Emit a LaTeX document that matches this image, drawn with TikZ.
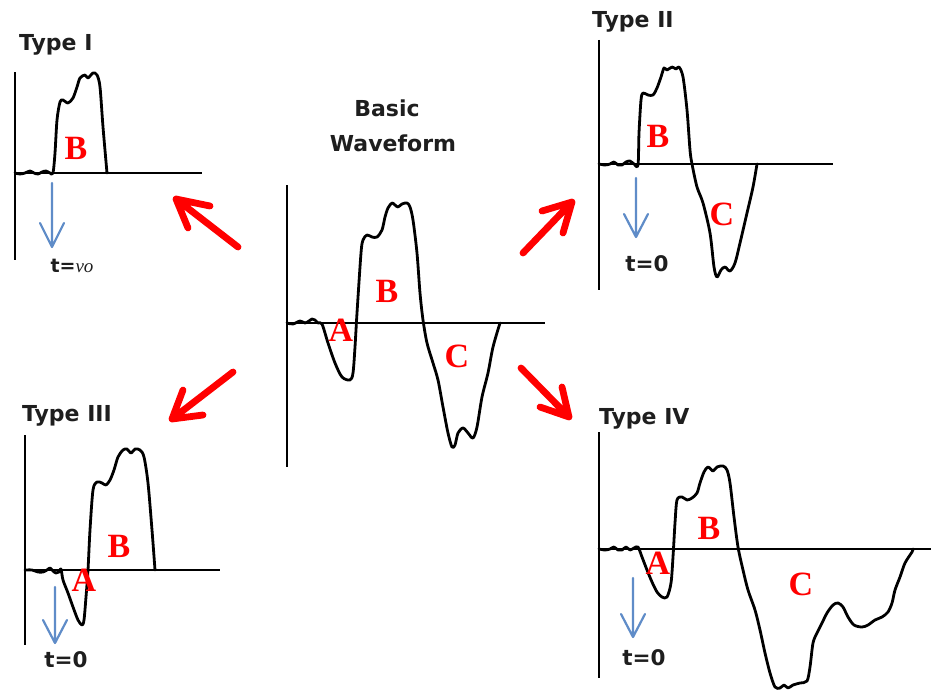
\documentclass[tikz,border=0pt]{standalone}
\usepackage{fontspec}
\newfontfamily\titlefont{DejaVu Sans}
\newfontfamily\labfont{Liberation Serif}
\definecolor{wred}{RGB}{255,0,0}
\definecolor{wblue}{RGB}{95,140,200}
\definecolor{ttlc}{RGB}{30,30,30}
\tikzset{
  axis/.style={line width=2.1pt, black},
  wave/.style={line width=2.8pt, black, line join=round, line cap=round},
  lab/.style={text=wred, font=\labfont\bfseries\fontsize{34}{34}\selectfont, inner sep=0pt},
  ttl/.style={text=ttlc, font=\titlefont\bfseries\fontsize{22}{24}\selectfont, inner sep=0pt},
  tlab/.style={text=ttlc, font=\titlefont\bfseries\fontsize{21.5}{24}\selectfont, inner sep=0pt},
  redarr/.style={line width=6.8pt, wred, line cap=round, line join=round},
  bluearr/.style={line width=2.2pt, wblue, line cap=round, line join=round}
}
\begin{document}
\begin{tikzpicture}[x=1pt,y=-1pt]
\useasboundingbox[fill=white] (0,0) rectangle (931,693);

% ---------------- Type I ----------------
\node[ttl, anchor=base west] (t1) at (19,51) {Type I};
\draw[axis] (15,72) -- (15,260);
\draw[axis] (15,173) -- (202,173);
\draw[wave] plot[smooth, tension=0.5] coordinates {(15,173) (20,174) (25,173) (30,171) (34,173) (38,174) (42,172) (46,171) (50,173) (53,173)
 (55,153) (57,120) (60,102) (63,100) (68,103) (73,98) (77,87) (80,78) (85,75) (88,78) (93,73) (97,75) (100,87) (103,127) (107,173)};
\node[lab] (b1) at (76,148) {B};
\coordinate (ba1) at (52,183); \coordinate (bh1) at (52,247);
\draw[bluearr] (ba1) -- (bh1) (40,223) -- (bh1) -- (64,223);
\node[tlab, anchor=base, font=\titlefont\bfseries\fontsize{19}{22}\selectfont] (z1) at (72,272) {t={\labfont\mdseries\itshape νo}};

% ---------------- Basic waveform ----------------
\node[ttl, anchor=base] (bw1) at (387,116) {Basic};
\node[ttl, anchor=base] (bw2) at (393,151) {Waveform};
\draw[axis] (287,185) -- (287,467);
\draw[axis] (287,323) -- (545,323);
\draw[wave] plot[smooth, tension=0.5] coordinates {(287,323) (293,324) (300,321) (305,323) (309,321) (312,319) (315,320) (318,323) (322,324)
 (328,343) (335,363) (342,377) (350,380) (353,373) (355,347) (357,313) (361,253) (363,240) (367,235) (372,237) (377,237) (382,230) (385,217) (388,208) (392,203) (395,205) (398,207) (402,204) (407,203) (410,207) (413,220) (417,253) (420,293) (423,320) (427,343) (433,363) (438,380) (443,407) (448,433) (452,447) (455,445) (458,433) (463,428) (468,433) (473,438) (477,427) (482,397) (488,373) (493,347) (500,323)};
\node[lab] (a0) at (341,330) {A};
\node[lab] (b0) at (387,291) {B};
\node[lab] (c0) at (457,356) {C};

% ---------------- Type II ----------------
\node[ttl, anchor=base west] (t2) at (592,28) {Type II};
\draw[axis] (599,40) -- (599,290);
\draw[axis] (599,164) -- (833,164);
\draw[wave] plot[smooth, tension=0.5] coordinates {(599,164) (605,165) (610,164) (614,162) (618,165) (622,165) (626,162) (630,161) (634,164) (638,165)
 (639,133) (641,100) (643,93) (648,95) (653,95) (657,88) (661,77) (664,68) (667,70) (672,67) (676,69) (679,67) (683,77) (687,110) (690,150) (692,164) (697,187) (703,203) (710,233) (714,267) (717,277) (721,270) (725,267) (730,271) (735,263) (740,243) (747,213) (753,187) (757,164)};
\node[lab] (b2) at (658,136) {B};
\node[lab] (c2) at (722,214) {C};
\coordinate (ba2) at (636,178); \coordinate (bh2) at (636,237);
\draw[bluearr] (ba2) -- (bh2) (624,214) -- (bh2) -- (648,214);
\node[tlab, anchor=base] (z2) at (647,271) {t=0};

% ---------------- Type III ----------------
\node[ttl, anchor=base west] (t3) at (22,421) {Type III};
\draw[axis] (25,435) -- (25,645);
\draw[axis] (25,570) -- (220,570);
\draw[wave] plot[smooth, tension=0.5] coordinates {(25,570) (32,570) (38,572) (43,572) (47,570) (50,568) (53,571) (56,573) (59,572) (61,569)
 (63,580) (68,593) (73,607) (78,620) (82,625) (84,620) (86,597) (88,570) (90,530) (93,490) (97,482) (102,483) (106,485) (110,480) (114,470) (118,457) (123,450) (127,449) (131,453) (135,449) (140,450) (144,457) (148,483) (152,530) (155,570)};
\node[lab] (a3) at (84,580) {A};
\node[lab] (b3) at (119,546) {B};
\coordinate (ba3) at (55,587); \coordinate (bh3) at (55,643);
\draw[bluearr] (ba3) -- (bh3) (43,620) -- (bh3) -- (67,620);
\node[tlab, anchor=base] (z3) at (66,667) {t=0};

% ---------------- Type IV ----------------
\node[ttl, anchor=base west] (t4) at (599,424) {Type IV};
\draw[axis] (599,432) -- (599,678);
\draw[axis] (599,549) -- (931,549);
\draw[wave] plot[smooth, tension=0.5] coordinates {(599,549) (605,550) (610,549) (614,547) (618,550) (622,550) (626,547) (630,550) (634,548) (638,547)
 (642,557) (647,570) (652,582) (657,592) (662,597) (667,597) (671,583) (673,557) (675,523) (677,500) (682,497) (687,500) (692,498) (697,493) (700,483) (704,472) (708,467) (713,471) (717,467) (723,466) (727,470) (730,483) (734,517) (738,547) (743,570) (748,590) (755,610) (760,630) (765,653) (770,673) (775,687) (780,688) (784,685) (788,688) (793,685) (800,683) (807,681) (810,667) (813,643) (817,633) (822,623) (827,613) (833,605) (838,603) (843,607) (848,617) (854,625) (862,627) (868,625) (875,620) (882,617) (888,612) (892,603) (895,590) (900,577) (905,563) (912,552) (913,549)};
\node[lab] (a4) at (658,563) {A};
\node[lab] (b4) at (709,528) {B};
\node[lab] (c4) at (801,584) {C};
\coordinate (ba4) at (633,578); \coordinate (bh4) at (633,637);
\draw[bluearr] (ba4) -- (bh4) (621,614) -- (bh4) -- (645,614);
\node[tlab, anchor=base] (z4) at (644,665) {t=0};

% ---------------- Red arrows ----------------
\coordinate (r1t) at (238,247); \coordinate (r1h) at (176,199);
\draw[redarr] (r1t) -- (r1h) (210,206) -- (r1h) -- (188,228);
\coordinate (r2t) at (523,253); \coordinate (r2h) at (572,202);
\draw[redarr] (r2t) -- (r2h) (542,211) -- (r2h) -- (563,233);
\coordinate (r3t) at (233,372); \coordinate (r3h) at (172,419);
\draw[redarr] (r3t) -- (r3h) (183,390) -- (r3h) -- (203,415);
\coordinate (r4t) at (521,368); \coordinate (r4h) at (569,417);
\draw[redarr] (r4t) -- (r4h) (562,387) -- (r4h) -- (540,407);
\end{tikzpicture}
\end{document}
